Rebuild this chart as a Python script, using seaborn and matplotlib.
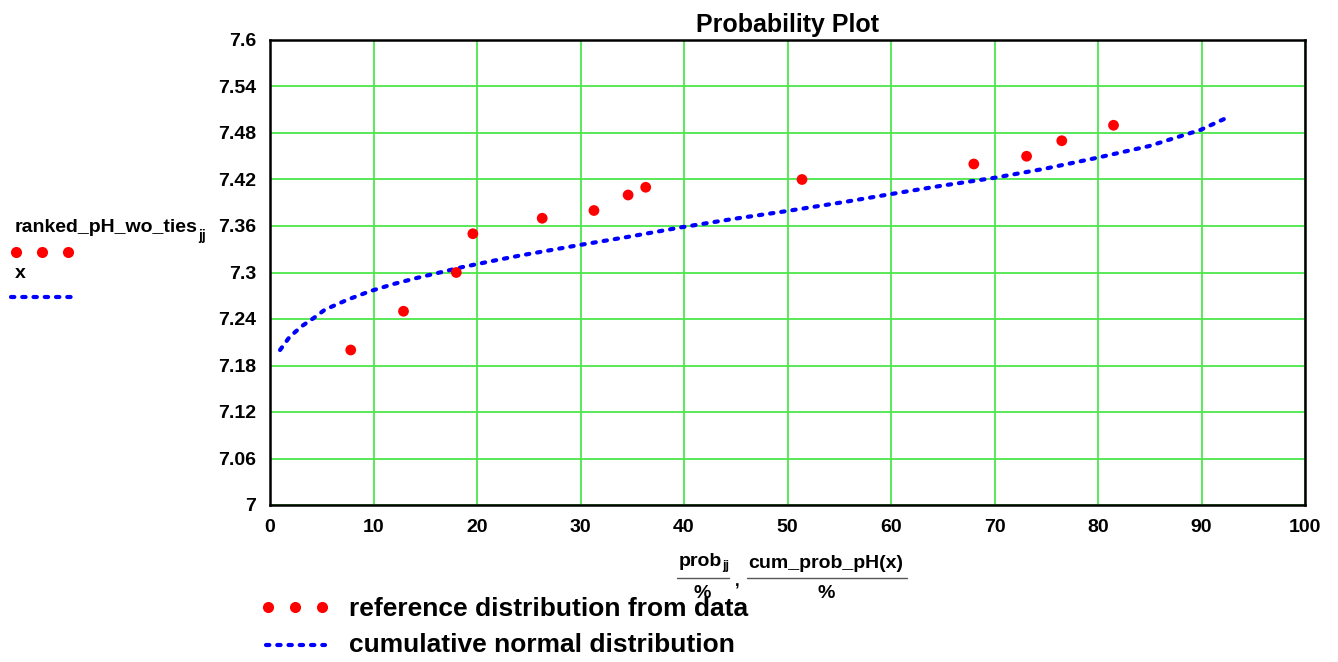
import numpy as np
import pandas as pd
import matplotlib
matplotlib.use("Agg")
import matplotlib.pyplot as plt
from matplotlib.lines import Line2D
from matplotlib.ticker import FuncFormatter
import seaborn as sns

# ranked data points (probability %, pH)
prob_pct = [7.8, 12.9, 18.0, 19.6, 26.3, 31.3, 34.6, 36.3, 51.4, 68.0, 73.1, 76.5, 81.5]
ranked_ph = [7.20, 7.25, 7.30, 7.35, 7.37, 7.38, 7.40, 7.41, 7.42, 7.44, 7.45, 7.47, 7.49]

# cumulative normal curve
curve_pct = [0.97, 1.9, 3.1, 4.2, 5.3, 7.5, 9.7, 11.9, 14.2, 16.4, 18.6, 21.9, 24.2,
             29.7, 34.6, 39.6, 44.7, 49.8, 55.5, 59.9, 64.9, 69.9, 74.9, 79.9, 84.9,
             89.9, 92.5]
curve_ph = [7.200, 7.217, 7.231, 7.241, 7.252, 7.265, 7.276, 7.285, 7.293, 7.300, 7.307,
            7.316, 7.322, 7.335, 7.346, 7.358, 7.369, 7.379, 7.391, 7.401, 7.412, 7.422,
            7.434, 7.448, 7.463, 7.484, 7.500]

x_ticks = list(range(0, 101, 10))
y_ticks = [7.0, 7.06, 7.12, 7.18, 7.24, 7.3, 7.36, 7.42, 7.48, 7.54, 7.6]

sns.set_style("white")
plt.rcParams['font.family'] = ['Liberation Sans', 'DejaVu Sans']
plt.rcParams['font.weight'] = 'bold'
plt.rcParams['text.color'] = 'black'
plt.rcParams['xtick.color'] = 'black'
plt.rcParams['ytick.color'] = 'black'
plt.rcParams['axes.titleweight'] = 'bold'

GREEN = '#4be84b'
RED = '#ff0000'
BLUE = '#0000ff'
DASH = (0.8, 1.9)

fig = plt.figure(figsize=(13.38, 6.62), dpi=100)
W, H = 1338, 662
ax = fig.add_axes([270 / W, 1 - 505 / H, 1035 / W, 465 / H])

pts = pd.DataFrame({'prob': prob_pct, 'ph': ranked_ph})
curve = pd.DataFrame({'prob': curve_pct, 'ph': curve_ph})

sns.lineplot(data=curve, x='prob', y='ph', ax=ax, sort=False, estimator=None,
             color=BLUE, linewidth=3, zorder=3)
line = ax.lines[-1]
line.set_dashes(DASH)
line.set_dash_capstyle('round')

sns.scatterplot(data=pts, x='prob', y='ph', ax=ax, color=RED, s=60,
                edgecolor='none', zorder=4)

ax.set_xlim(0, 100)
ax.set_ylim(7.0, 7.6)
ax.set_xticks(x_ticks)
ax.set_yticks(y_ticks)
ax.yaxis.set_major_formatter(FuncFormatter(lambda v, p: ('%.2f' % v).rstrip('0').rstrip('.')))
ax.tick_params(axis='both', length=0, labelsize=14, pad=10, labelcolor='black')
for lab in ax.get_xticklabels() + ax.get_yticklabels():
    lab.set_fontweight('bold')
ax.grid(True, color=GREEN, linewidth=1.3, zorder=1)
ax.set_axisbelow(True)
for sp in ax.spines.values():
    sp.set_color('black')
    sp.set_linewidth(1.8)
ax.set_xlabel('')
ax.set_ylabel('')
ax.set_title('Probability Plot', fontsize=18, fontweight='bold', pad=6, color='black')

# left-side legend (Mathcad style)
fig.text(15 / W, 1 - 228 / H, 'ranked_pH_wo_ties', fontsize=14, fontweight='bold',
         ha='left', va='center')
fig.text(198 / W, 1 - 236 / H, 'jj', fontsize=10, fontweight='bold', ha='left', va='center')
fig.add_artist(Line2D([16 / W, 42 / W, 68 / W], [1 - 252 / H] * 3, linestyle='none',
                      marker='o', markersize=8, color=RED, markeredgewidth=0))
fig.text(15 / W, 1 - 274 / H, 'x', fontsize=14, fontweight='bold', ha='left', va='center')
l1 = Line2D([11 / W, 71 / W], [1 - 297 / H] * 2, color=BLUE, linewidth=3)
l1.set_dashes(DASH)
l1.set_dash_capstyle('round')
fig.add_artist(l1)

# x-axis label as fractions
fs = 14
fig.text(679 / W, 1 - 562 / H, 'prob', fontsize=fs, fontweight='bold', ha='left', va='center')
fig.text(722 / W, 1 - 566 / H, 'jj', fontsize=9, fontweight='bold', ha='left', va='center')
fig.add_artist(Line2D([677 / W, 729 / W], [1 - 578 / H] * 2, color='#555555', linewidth=1))
fig.text(702 / W, 1 - 593 / H, '%', fontsize=fs, fontweight='bold', ha='center', va='center')
fig.text(737 / W, 1 - 582 / H, ',', fontsize=12, fontweight='bold', ha='center', va='center')
fig.text(826 / W, 1 - 563 / H, 'cum_prob_pH(x)', fontsize=fs, fontweight='bold',
         ha='center', va='center')
fig.add_artist(Line2D([747 / W, 907 / W], [1 - 578 / H] * 2, color='#555555', linewidth=1))
fig.text(826 / W, 1 - 593 / H, '%', fontsize=fs, fontweight='bold', ha='center', va='center')

# bottom legend
fig.add_artist(Line2D([268 / W, 295 / W, 322 / W], [1 - 607 / H] * 3, linestyle='none',
                      marker='o', markersize=8, color=RED, markeredgewidth=0))
fig.text(349 / W, 1 - 609 / H, 'reference distribution from data', fontsize=19,
         fontweight='bold', ha='left', va='center')
l2 = Line2D([266 / W, 325 / W], [1 - 645 / H] * 2, color=BLUE, linewidth=3)
l2.set_dashes(DASH)
l2.set_dash_capstyle('round')
fig.add_artist(l2)
fig.text(349 / W, 1 - 645 / H, 'cumulative normal distribution', fontsize=19,
         fontweight='bold', ha='left', va='center')

fig.savefig('out.png', dpi=100)
